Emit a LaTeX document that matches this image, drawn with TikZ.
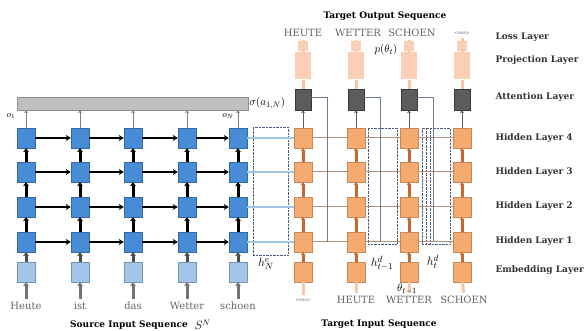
\documentclass[tikz,border=0pt]{standalone}
\usepackage{fontspec}
\setmainfont{DejaVu Serif}
\usepackage{tikz}
\usetikzlibrary{arrows.meta,positioning,calc}

\definecolor{encblue}{RGB}{70,140,214}
\definecolor{embblue}{RGB}{162,197,234}
\definecolor{decorange}{RGB}{245,170,112}
\definecolor{projpeach}{RGB}{251,206,182}
\definecolor{attgray}{RGB}{92,92,92}
\definecolor{barlgray}{RGB}{192,192,192}
\definecolor{stemorange}{RGB}{200,104,44}
\definecolor{boxblue}{RGB}{72,92,124}
\definecolor{recline}{RGB}{176,146,124}

\begin{document}
\begin{tikzpicture}[x=1pt, y=-1pt,
  font=\fontsize{9}{10}\selectfont,
  enc/.style={draw=encblue!75!black, fill=encblue, minimum width=18pt,
              minimum height=20pt, inner sep=0pt},
  encemb/.style={enc, draw=embblue!75!black, fill=embblue},
  dec/.style={draw=decorange!80!black, fill=decorange, minimum width=18pt,
              minimum height=20pt, inner sep=0pt},
  att/.style={dec, draw=attgray!60!black, fill=attgray, minimum width=16pt,
              minimum height=21pt},
  proj/.style={dec, draw=none, fill=projpeach, minimum width=16pt,
               minimum height=27pt},
  loss/.style={proj, minimum width=10pt, minimum height=10pt},
  bar/.style={draw=black!45, fill=barlgray, minimum width=231pt,
              minimum height=13pt, inner sep=0pt},
  word/.style={text=black!60, font=\fontsize{10}{11}\selectfont},
  eos/.style={text=black!60, font=\fontsize{4.5}{5}\selectfont},
  title/.style={font=\fontsize{9}{10}\selectfont\bfseries},
  layer/.style={anchor=west, text=black!80,
                font=\fontsize{9}{10}\selectfont\bfseries},
  mathlab/.style={font=\fontsize{11}{12}\selectfont, inner sep=1pt},
  statelab/.style={font=\fontsize{12.5}{13}\selectfont, inner sep=1pt},
  hbox/.style={draw=boxblue, densely dotted, thin, inner sep=0pt},
  harrow/.style={-{Stealth[length=5pt,width=6pt]}, line width=2.5pt},
  varrow/.style={-{Stealth[length=4pt,width=6pt]}, line width=3pt},
  darrow/.style={-{Stealth[length=3pt,width=5pt]}, line width=3pt, stemorange},
  neck/.style={line width=3pt, projpeach!75!decorange},
  tip/.style={-{Stealth[length=3pt,width=4pt]}, line width=1pt},
  link/.style={draw=encblue!60, double=embblue, double distance=2pt},
  rec/.style={line width=1pt, recline},
  attline/.style={thin, boxblue!80}
]
\useasboundingbox (0,0) rectangle (587,331);

% dotted state boxes
\node[hbox, minimum width=35pt, minimum height=128pt] (hen) at (270.5,191) {};
\node[hbox, minimum width=29pt, minimum height=116pt] (hdp) at (382.5,186) {};
\node[hbox, minimum width=28pt, minimum height=116pt] (hdt) at (436,186) {};
\draw[hbox] ($(hdt.north west)+(4,0)$) -- ($(hdt.south west)+(4,0)$);
\draw[hbox] ($(hdt.north west)+(8,0)$) -- ($(hdt.south west)+(8,0)$);

% encoder
\foreach \c/\x/\w in {1/26/Heute,2/80/ist,3/133/das,4/187/Wetter,5/238/schoen} {
  \node[word] (ew\c) at (\x,306) {\w};
  \node[encemb] (e\c-0) at (\x,272) {};
  \foreach \r/\y in {1/242,2/207,3/172,4/138}
    \node[enc] (e\c-\r) at (\x,\y) {};
}
\node[bar] (bar) at (132.5,103.5) {};
\node[mathlab, anchor=west] (sig) at (bar.east) {$\sigma(a_{1,N})$};
\node[font=\fontsize{9}{10}\selectfont] (o1) at (11,116) {$o_1$};
\node[font=\fontsize{9}{10}\selectfont] (oN) at (228,116) {$o_N$};

\foreach \c in {1,...,5} {
  \draw[varrow, black!55] (ew\c) -- (e\c-0);
  \draw[varrow, black!70] (e\c-0) -- (e\c-1);
  \foreach \r/\s in {1/2,2/3,3/4}
    \draw[varrow] (e\c-\r) -- (e\c-\s);
  \draw[tip, black!50] (e\c-4) -- (e\c-4 |- bar.south);
}
\foreach \r in {1,...,4}
  \foreach \c/\d in {1/2,2/3,3/4,4/5}
    \draw[harrow] (e\c-\r) -- (e\d-\r);

% decoder
\foreach \c/\x in {1/303,2/356,3/409,4/462} {
  \node[dec] (d\c-0) at (\x,272) {};
  \foreach \r/\y in {1/242,2/207,3/172,4/138}
    \node[dec] (d\c-\r) at (\x,\y) {};
  \node[att] (d\c-a) at (\x,99.5) {};
  \node[proj] (d\c-p) at (\x,66) {};
  \node[loss] (d\c-l) at (\x,46) {};
}
\node[word] (dw1) at (303,33) {HEUTE};
\node[word] (dw2) at (358,33) {WETTER};
\node[word] (dw3) at (412,33) {SCHOEN};
\node[eos]  (dw4) at (462,33) {<eos>};
\node[eos]  (iw1) at (303,300) {<eos>};
\node[word] (iw2) at (356,300) {HEUTE};
\node[word] (iw3) at (409,300) {WETTER};
\node[word] (iw4) at (464,300) {SCHOEN};

\foreach \c in {1,...,4} {
  \draw[neck] (iw\c) -- (d\c-0);
  \draw[darrow] (d\c-0) -- (d\c-1);
  \foreach \r/\s in {1/2,2/3,3/4}
    \draw[darrow] (d\c-\r) -- (d\c-\s);
  \draw[tip, attgray] (d\c-4) -- (d\c-a);
  \draw[neck] (d\c-a) -- (d\c-p);
  \draw[neck] (d\c-p) -- (d\c-l);
  \draw[neck] (d\c-l) -- (d\c-l |- dw\c.south);
}
\foreach \r in {1,...,4} {
  \foreach \c/\d in {1/2,2/3,3/4}
    \draw[rec] (d\c-\r) -- (d\d-\r);
  \draw[link] (e5-\r) -- (d1-\r);
}
\foreach \c in {1,2,3} {
  \coordinate (t\c) at ($(d\c-1.east)+(15,0)$);
  \draw[attline] ($(d\c-a.east)+(0,-2)$) -| (t\c);
}

% labels
\node[statelab] (henl) at (266,264) {$h^e_N$};
\node[statelab] (hdpl) at (382,263) {$h^d_{t-1}$};
\node[statelab] (hdtl) at (433,262) {$h^d_t$};
\node[mathlab] (pth) at (386,50) {$p(\theta_t)$};
\node[mathlab] (thp) at (407,289) {$\theta_{t-1}$};

\node[title] (tout) at (385,16) {Target Output Sequence};
\node[title] (tin) at (379,324) {Target Input Sequence};
\node[title] (src) at (129,325) {Source Input Sequence};
\node[right=3pt of src, font=\fontsize{12}{12}\selectfont, inner sep=0pt] (sn) {$S^N$};

\foreach \y/\t [count=\i] in {37/Loss Layer,60/Projection Layer,97/Attention Layer,
    138/Hidden Layer 4,172/Hidden Layer 3,206/Hidden Layer 2,241/Hidden Layer 1,
    270/Embedding Layer}
  \node[layer] (lay\i) at (492,\y) {\t};
\end{tikzpicture}
\end{document}
